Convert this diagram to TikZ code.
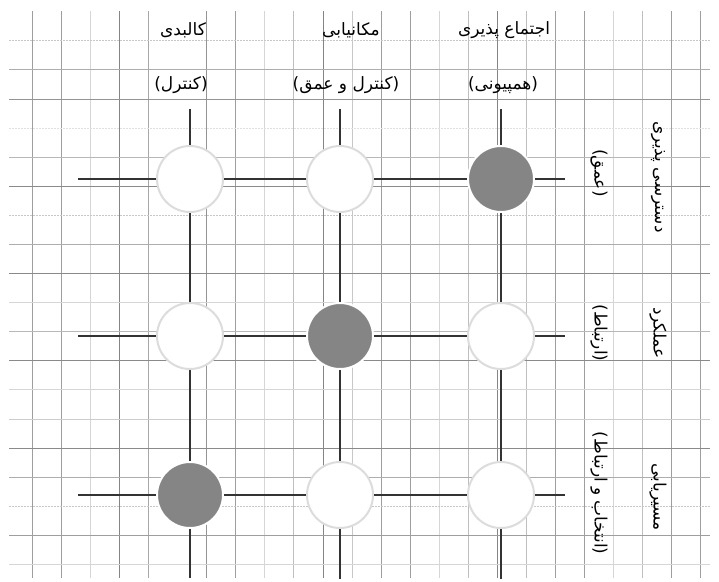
\documentclass[tikz,border=0pt]{standalone}
\usepackage{fontspec}
\newfontfamily\arabicfont[Script=Arabic]{DejaVu Sans}
\TeXXeTstate=1
\usetikzlibrary{backgrounds}
\definecolor{DotGray}{HTML}{858585}
\definecolor{RimGray}{HTML}{DCDCDC}
\newcommand{\fatext}[1]{\beginR #1\endR}

\begin{document}
\begin{tikzpicture}[x=1pt,y=-1pt,
    cell/.style={circle, draw=RimGray, fill=white, line width=2pt, minimum size=66pt, inner sep=0pt},
    hit/.style={cell, draw=white, fill=DotGray},
    axis/.style={line width=1.5pt, black!80},
    head/.style={font=\fontsize{17}{19}\selectfont\arabicfont, inner sep=1pt},
    side/.style={head, rotate=-90}]
  \useasboundingbox (0,0) rectangle (719,581);
  \begin{scope}[on background layer]
    \foreach \i/\s in {0/38,1/38,2/16,3/48,4/34,6/42,7/38,8/16,9/25,10/48,11/22,12/38,
                       13/38,14/16,15/25,16/48,17/25,18/38,19/38,20/16,21/25,22/38,23/38}
      \draw[black!\s, line width=0.7pt] (32.3+29.06*\i,11) -- (32.3+29.06*\i,578);
    \foreach \j/\s in {1/32,2/42,4/28,5/46,7/32,8/46,9/16,10/28,11/46,12/16,13/20,14/46,15/32,17/38,18/16}
      \draw[black!\s, line width=0.7pt] (9,40.7+29.09*\j) -- (710,40.7+29.09*\j);
    \foreach \j/\s in {0/22,3/12,6/22,16/22}
      \draw[black!\s, line width=0.7pt, dash pattern=on 2pt off 1pt] (9,40.7+29.09*\j) -- (710,40.7+29.09*\j);
  \end{scope}

  \node[cell] (dk) at (190,179) {};
  \node[cell] (dm) at (340,179) {};
  \node[hit]  (de) at (501,179) {};
  \node[cell] (ak) at (190,336) {};
  \node[hit]  (am) at (340,336) {};
  \node[cell] (ae) at (501,336) {};
  \node[hit]  (sk) at (190,495) {};
  \node[cell] (sm) at (340,495) {};
  \node[cell] (se) at (501,495) {};

  \coordinate (topk) at (190,109);
  \coordinate (topm) at (340,109);
  \coordinate (tope) at (501,109);
  \coordinate (botk) at (190,578);
  \coordinate (botm) at (340,579);
  \coordinate (bote) at (501,579);
  \coordinate (leftd) at (78,179);
  \coordinate (lefta) at (78,336);
  \coordinate (lefts) at (78,495);
  \coordinate (rightd) at (565,179);
  \coordinate (righta) at (565,336);
  \coordinate (rights) at (565,495);

  \begin{scope}[on background layer]
    \draw[axis] (topk) -- (dk) -- (ak) -- (sk) -- (botk);
    \draw[axis] (topm) -- (dm) -- (am) -- (sm) -- (botm);
    \draw[axis] (tope) -- (de) -- (ae) -- (se) -- (bote);
    \draw[axis] (leftd) -- (dk) -- (dm) -- (de) -- (rightd);
    \draw[axis] (lefta) -- (ak) -- (am) -- (ae) -- (righta);
    \draw[axis] (lefts) -- (sk) -- (sm) -- (se) -- (rights);
  \end{scope}

  \node[head] (kalbadi) at (183,30) {\fatext{کالبدی}};
  \node[head] (makan) at (351,30) {\fatext{مکانیابی}};
  \node[head] (ejtema) at (504,30) {\fatext{اجتماع پذیری}};
  \node[head] (kalbadisub) at (181,85) {\fatext{(کنترل)}};
  \node[head] (makansub) at (346,85) {\fatext{(کنترل و عمق)}};
  \node[head] (ejtemasub) at (503,85) {\fatext{(همپیونی)}};

  \node[side] (dastresi) at (658,177) {\fatext{دسترسی پذیری}};
  \node[side] (dastresisub) at (599,173) {\fatext{(عمق)}};
  \node[side] (amalkard) at (658,333) {\fatext{عملکرد}};
  \node[side] (amalkardsub) at (599,333) {\fatext{(ارتباط)}};
  \node[side] (masir) at (658,497) {\fatext{مسیریابی}};
  \node[side] (masirsub) at (599,493) {\fatext{(انتخاب و ارتباط)}};
\end{tikzpicture}
\end{document}
